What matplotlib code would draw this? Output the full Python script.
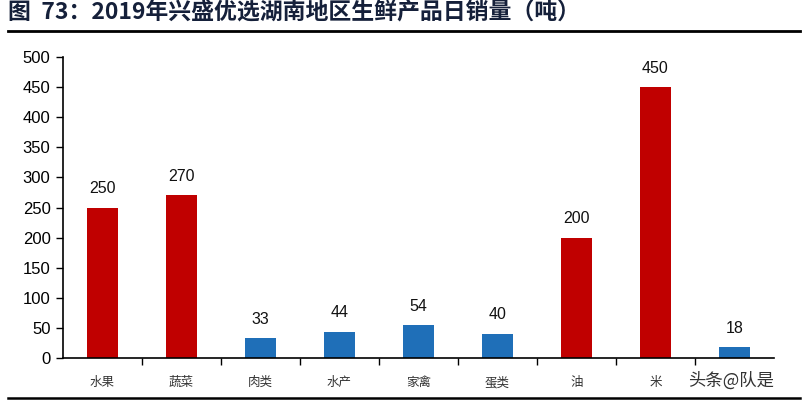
import matplotlib
matplotlib.use("Agg")
import matplotlib.pyplot as plt
from matplotlib.lines import Line2D

plt.rcParams['font.family'] = ['Noto Sans CJK SC', 'DejaVu Sans']

categories = ["水果", "蔬菜", "肉类", "水产", "家禽", "蛋类", "油", "米", "其他"]
values = [250, 270, 33, 44, 54, 40, 200, 450, 18]
colors_key = ["r", "r", "b", "b", "b", "b", "r", "r", "b"]
yticks = [0, 50, 100, 150, 200, 250, 300, 350, 400, 450, 500]
title = "图  73：2019年兴盛优选湖南地区生鲜产品日销量（吨）"

RED = "#C00000"
BLUE = "#1F6FB8"
cmap = {"r": RED, "b": BLUE}

fig = plt.figure(figsize=(8.06, 4.04), dpi=100)
ax = fig.add_axes([63/806, 1-358/404, (774-63)/806, (358-57)/404])

x = list(range(len(categories)))
bars = ax.bar(x, values, width=0.4, color=[cmap[c] for c in colors_key], zorder=2)
for xi, v in zip(x, values):
    ax.text(xi, v + 19, str(v), ha='center', va='bottom', fontsize=11.5,
            family=['Liberation Sans', 'DejaVu Sans'], color='#111111')

ax.set_xlim(-0.5, len(categories) - 0.5)
ax.set_ylim(0, 500)
ax.set_yticks(yticks)
ax.set_yticklabels([str(t) for t in yticks], fontsize=12, family=['Liberation Sans', 'DejaVu Sans'])
ax.set_xticks([i + 0.5 for i in range(len(categories) - 1)], minor=False)
ax.set_xticklabels([])
ax.tick_params(axis='x', which='major', direction='out', length=5, width=1)
ax.set_xticks(x, minor=True)
ax.set_xticklabels(categories[:8] + [""], minor=True, fontsize=9, color='#333333')
ax.tick_params(axis='x', which='minor', length=0, pad=13)
ax.tick_params(axis='y', direction='out', length=5, width=1, pad=4)
for s in ['top', 'right']:
    ax.spines[s].set_visible(False)
ax.spines['left'].set_linewidth(1.2)
ax.spines['bottom'].set_linewidth(1.2)

fig.text(8/806, 1-13/404, title, fontsize=16.5, fontweight='bold', color='#15203A',
         va='center', ha='left')
fig.add_artist(Line2D([8/806, 800/806], [1-31/404, 1-31/404], color='black', lw=2))
fig.add_artist(Line2D([8/806, 800/806], [1-398/404, 1-398/404], color='black', lw=1.8))
fig.text(688/806, 1-381/404, "头条@队是", fontsize=12.5, color='#333333', va='center', ha='left')

fig.savefig("out.png", dpi=100)
